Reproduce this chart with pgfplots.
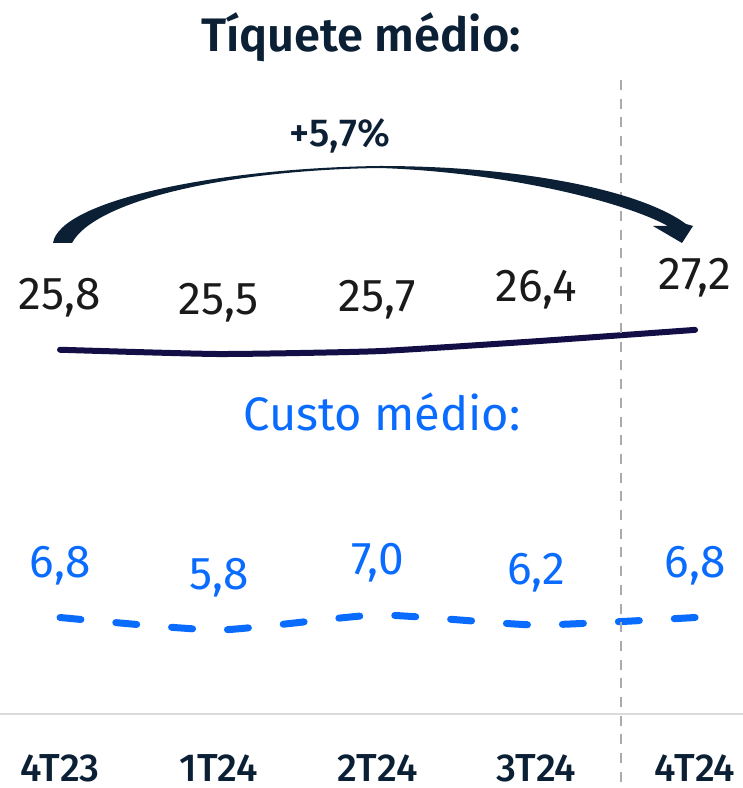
\documentclass[border=0pt]{standalone}
\usepackage{pgfplots}
\pgfplotsset{compat=1.18}
\usepackage{fontspec}
\setmainfont{Fira Sans}[BoldFont={Fira Sans SemiBold}]
\newfontfamily\firamed{Fira Sans Medium}
\definecolor{navy}{HTML}{0B1F35}
\definecolor{ink}{HTML}{1A1A1A}
\definecolor{topline}{HTML}{130E45}
\definecolor{azul}{HTML}{0A6CFF}
\definecolor{guia}{HTML}{ABABAB}
\definecolor{eixo}{HTML}{DADADA}

\begin{document}
\begin{tikzpicture}
\useasboundingbox (0,0) rectangle (743pt,788pt);

% Tiquete medio (with the category axis)
\begin{axis}[
  at={(0pt,74pt)}, anchor=south west,
  scale only axis, width=743pt, height=714pt,
  xmin=-0.378, xmax=4.302, ymin=0.15, ymax=50.43,
  axis x line=bottom, axis y line=none,
  x axis line style={-, draw=eixo, line width=2pt},
  xtick={0,1,2,3,4}, xticklabels={4T23,1T24,2T24,3T24,4T24},
  major tick length=0pt,
  xticklabel style={font=\firamed\fontsize{39}{39}\selectfont, text=navy, anchor=base, inner sep=0pt, yshift=-67pt},
  clip=false,
  /pgf/number format/.cd, use comma, fixed, fixed zerofill, precision=1, assume math mode=true,
  /pgfplots/.cd,
  nodes near coords,
  every node near coord/.append style={font=\fontsize{46}{46}\selectfont, text=ink, anchor=base, yshift=40pt},
]
\addplot[topline, line width=6pt, line cap=round, smooth, tension=0.3] coordinates {
  (0,25.8) (1,25.5) (2,25.7) (3,26.4) (4,27.2)
};
\end{axis}

% Custo medio
\begin{axis}[
  at={(0pt,74pt)}, anchor=south west,
  scale only axis, width=743pt, height=714pt,
  xmin=-0.378, xmax=4.302, ymin=-0.92, ymax=56.2,
  hide axis, clip=false,
  /pgf/number format/.cd, use comma, fixed, fixed zerofill, precision=1, assume math mode=true,
  /pgfplots/.cd,
  nodes near coords,
  every node near coord/.append style={font=\fontsize{46}{46}\selectfont, text=azul, anchor=base, yshift=40pt},
]
\addplot[azul, line width=7pt, line cap=round, dash pattern=on 21pt off 35pt, smooth, tension=0.3] coordinates {
  (0,6.8) (1,5.8) (2,7.0) (3,6.2) (4,6.8)
};
\end{axis}

% annotations in pixel coordinates (y downwards)
\begin{scope}[x=1pt, y=-1pt, shift={(0pt,788pt)}]
  \draw[guia, line width=2.5pt, dash pattern=on 10pt off 8.7pt] (621,80) -- (621,788);
  \node[anchor=base, text=navy, font=\bfseries\fontsize{47}{47}\selectfont] at (361,52) {Tíquete médio:};
  \node[anchor=base, text=azul, font=\fontsize{47}{47}\selectfont] at (382,431) {Custo médio:};
  \node[anchor=base, text=navy, font=\firamed\fontsize{39}{39}\selectfont] at (340,147) {+5,7\%};
  \fill[navy] (53,243) .. controls (60,200) and (220,168) .. (380,166)
    .. controls (520,166) and (640,190) .. (686,224)
    -- (693,226) -- (682,243) -- (653,226) -- (668,226)
    .. controls (620,200) and (500,172) .. (380,168)
    .. controls (230,170) and (95,200) .. (72,243) -- cycle;
\end{scope}
\end{tikzpicture}
\end{document}
